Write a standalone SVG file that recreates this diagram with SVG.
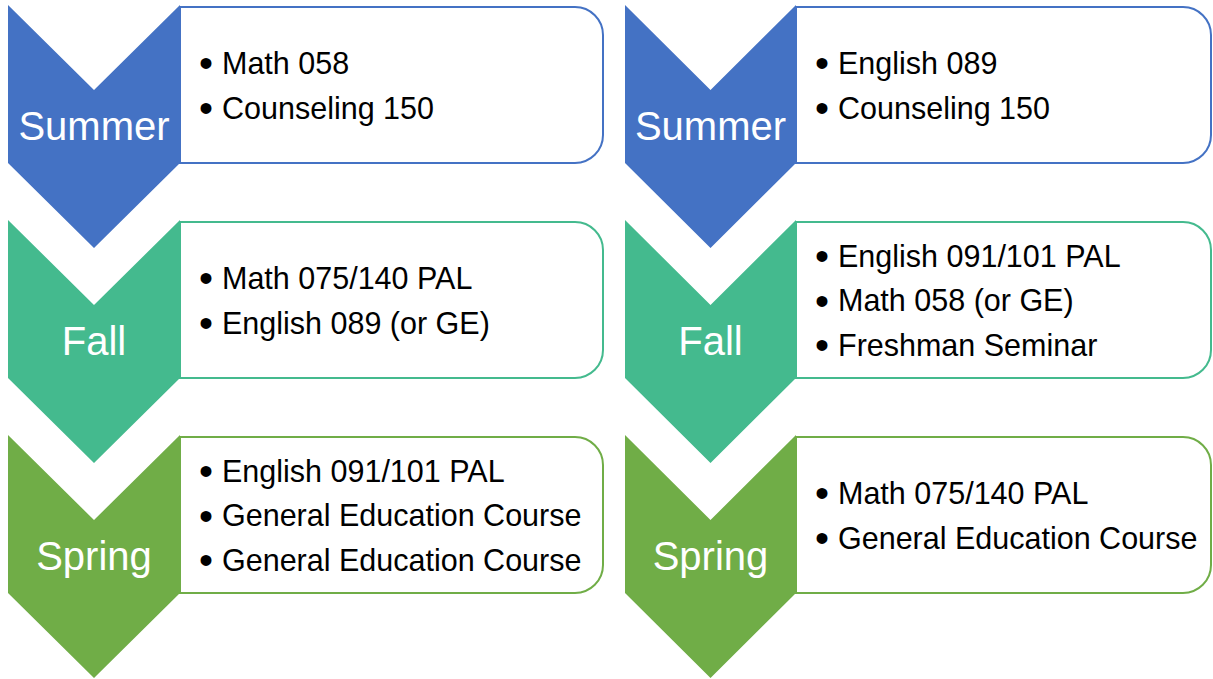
<svg xmlns="http://www.w3.org/2000/svg" width="1213" height="679" viewBox="0 0 1213 679">
<style>
.lbl{font-family:"Liberation Sans",Arial,sans-serif;font-size:40px;fill:#fff;text-anchor:middle}
.t{font-family:"Liberation Sans",Arial,sans-serif;font-size:30.5px;fill:#000}
.b{font-family:"Liberation Sans",Arial,sans-serif;font-size:40px;fill:#000}
.box{fill:#fff;stroke-width:2}
.su{fill:#4472C4}.fa{fill:#44BA8E}.sp{fill:#70AD47}
.bsu{stroke:#4472C4}.bfa{stroke:#44BA8E}.bsp{stroke:#70AD47}
</style>
<rect width="1213" height="679" fill="#fff"/>
<g id="connectors"></g>
<g id="left-summer">
<path class="box bsu" d="M180,7 H575 A28,28 0 0 1 603,35 V135 A28,28 0 0 1 575,163 H180 Z"/>
<polygon class="su" points="8,5 94,90 180,5 180,163 94,248 8,163"/>
<text class="lbl" x="94" y="140">Summer</text>
<text class="b" x="199" y="77">•</text><text class="t" x="222" y="73.5">Math 058</text>
<text class="b" x="199" y="122">•</text><text class="t" x="222" y="118.5">Counseling 150</text>
</g>
<g id="left-fall">
<path class="box bfa" d="M180,222 H575 A28,28 0 0 1 603,250 V350 A28,28 0 0 1 575,378 H180 Z"/>
<polygon class="fa" points="8,220 94,305 180,220 180,378 94,463 8,378"/>
<text class="lbl" x="94" y="355">Fall</text>
<text class="b" x="199" y="292">•</text><text class="t" x="222" y="288.5">Math 075/140 PAL</text>
<text class="b" x="199" y="337">•</text><text class="t" x="222" y="333.5">English 089 (or GE)</text>
</g>
<g id="left-spring">
<path class="box bsp" d="M180,437 H575 A28,28 0 0 1 603,465 V565 A28,28 0 0 1 575,593 H180 Z"/>
<polygon class="sp" points="8,435 94,520 180,435 180,593 94,678 8,593"/>
<text class="lbl" x="94" y="570">Spring</text>
<text class="b" x="199" y="485">•</text><text class="t" x="222" y="481.5">English 091/101 PAL</text>
<text class="b" x="199" y="529.5">•</text><text class="t" x="222" y="526">General Education Course</text>
<text class="b" x="199" y="574">•</text><text class="t" x="222" y="570.5">General Education Course</text>
</g>
<g id="right-summer">
<path class="box bsu" d="M796,7 H1183 A28,28 0 0 1 1211,35 V135 A28,28 0 0 1 1183,163 H796 Z"/>
<polygon class="su" points="625,5 710.5,90 796,5 796,163 710.5,248 625,163"/>
<text class="lbl" x="710.5" y="140">Summer</text>
<text class="b" x="815" y="77">•</text><text class="t" x="838" y="73.5">English 089</text>
<text class="b" x="815" y="122">•</text><text class="t" x="838" y="118.5">Counseling 150</text>
</g>
<g id="right-fall">
<path class="box bfa" d="M796,222 H1183 A28,28 0 0 1 1211,250 V350 A28,28 0 0 1 1183,378 H796 Z"/>
<polygon class="fa" points="625,220 710.5,305 796,220 796,378 710.5,463 625,378"/>
<text class="lbl" x="710.5" y="355">Fall</text>
<text class="b" x="815" y="270">•</text><text class="t" x="838" y="266.5">English 091/101 PAL</text>
<text class="b" x="815" y="314.5">•</text><text class="t" x="838" y="311">Math 058 (or GE)</text>
<text class="b" x="815" y="359">•</text><text class="t" x="838" y="355.5">Freshman Seminar</text>
</g>
<g id="right-spring">
<path class="box bsp" d="M796,437 H1183 A28,28 0 0 1 1211,465 V565 A28,28 0 0 1 1183,593 H796 Z"/>
<polygon class="sp" points="625,435 710.5,520 796,435 796,593 710.5,678 625,593"/>
<text class="lbl" x="710.5" y="570">Spring</text>
<text class="b" x="815" y="507">•</text><text class="t" x="838" y="503.5">Math 075/140 PAL</text>
<text class="b" x="815" y="552">•</text><text class="t" x="838" y="548.5">General Education Course</text>
</g>
</svg>
